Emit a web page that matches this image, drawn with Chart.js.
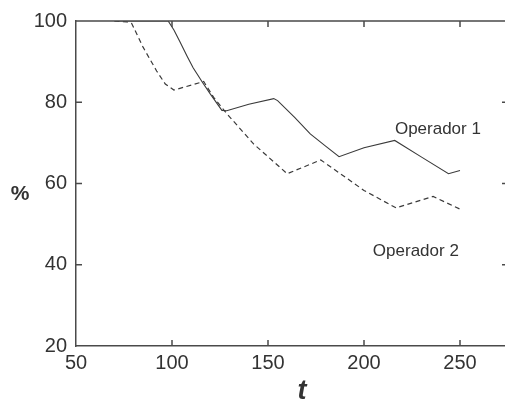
<!DOCTYPE html>
<html>
<head>
<meta charset="utf-8">
<script src="https://cdn.jsdelivr.net/npm/chart.js@4"></script>
<style>
  html, body { margin: 0; padding: 0; background: #fff; overflow: hidden; }
  #wrap { width: 508px; height: 404px; }
</style>
</head>
<body>
<div id="wrap"><canvas id="chart" width="508" height="404"></canvas></div>
<script>
const xTicks = [50, 100, 150, 200, 250];
const yTicks = [20, 40, 60, 80, 100];

const op1T = [70, 98, 101, 104, 108, 111, 116, 120, 126, 128.5, 140, 153, 155, 164, 172, 180, 187, 200, 216, 230, 244, 250];
const op1V = [100, 100, 97.8, 95, 91.2, 88.5, 84.8, 82, 78, 77.9, 79.5, 80.9, 80.4, 76.2, 72.2, 69.2, 66.6, 68.8, 70.6, 66.5, 62.4, 63.2];

const op2T = [70, 76.5, 79, 85, 92, 96.5, 101, 116.5, 121.7, 128.7, 142.6, 160, 177.5, 200, 216.7, 236, 250];
const op2V = [100, 99.8, 99.4, 93.5, 87.7, 84.5, 83, 85.1, 81.2, 77.1, 69.7, 62.4, 65.8, 58.3, 54, 56.8, 53.7];

const toPoints = (ts, vs) => ts.map((t, i) => ({ x: t, y: vs[i] }));

const axisColor = '#4a4a4a';
const textColor = '#333';
const font = 'Liberation Sans, Arial, sans-serif';

// frame on top, inward ticks, axis titles and line labels
const decor = {
  id: 'decor',
  afterDraw(chart) {
    const { ctx, chartArea: a, scales } = chart;
    const tl = 6;
    ctx.save();
    ctx.strokeStyle = axisColor;
    ctx.lineWidth = 1.5;
    ctx.beginPath();
    ctx.moveTo(a.left, a.top);
    ctx.lineTo(a.right, a.top);
    xTicks.slice(1).forEach(v => {
      const px = scales.x.getPixelForValue(v);
      ctx.moveTo(px, a.bottom); ctx.lineTo(px, a.bottom - tl);
      ctx.moveTo(px, a.top); ctx.lineTo(px, a.top + tl);
    });
    yTicks.slice(1, -1).forEach(v => {
      const py = scales.y.getPixelForValue(v);
      ctx.moveTo(a.left, py); ctx.lineTo(a.left + tl, py);
      ctx.moveTo(a.right, py); ctx.lineTo(a.right - tl, py);
    });
    ctx.stroke();

    ctx.fillStyle = textColor;
    ctx.textAlign = 'center';
    ctx.textBaseline = 'middle';
    ctx.font = 'bold 21px ' + font;
    ctx.fillText('%', 20, 194);
    ctx.font = 'italic bold 27px ' + font;
    ctx.fillText('t', 302, 392);
    ctx.font = '17px ' + font;
    ctx.fillText('Operador 1', scales.x.getPixelForValue(238.5), scales.y.getPixelForValue(73.3));
    ctx.fillText('Operador 2', scales.x.getPixelForValue(227), scales.y.getPixelForValue(43.2));
    ctx.restore();
  }
};

new Chart(document.getElementById('chart').getContext('2d'), {
  type: 'line',
  data: {
    datasets: [{
      label: 'Operador 1',
      data: toPoints(op1T, op1V),
      borderColor: '#3a3a3a',
      borderWidth: 1.1,
      pointRadius: 0,
      tension: 0
    }, {
      label: 'Operador 2',
      data: toPoints(op2T, op2V),
      borderColor: '#3a3a3a',
      borderWidth: 1.2,
      borderDash: [5, 3.5],
      pointRadius: 0,
      tension: 0
    }]
  },
  options: {
    responsive: false,
    animation: false,
    layout: { padding: { top: 20, right: 0, left: 0, bottom: 0 } },
    plugins: { legend: { display: false }, tooltip: { enabled: false } },
    scales: {
      x: {
        type: 'linear',
        min: 50,
        max: 275,
        afterFit(s) { s.height = 58; },
        afterBuildTicks(s) { s.ticks = xTicks.map(v => ({ value: v })); },
        grid: { display: false, drawTicks: false },
        border: { display: true, color: axisColor, width: 1.5 },
        ticks: { color: textColor, padding: 5, font: { family: font, size: 20 }, maxRotation: 0 }
      },
      y: {
        min: 20,
        max: 100,
        afterFit(s) { s.width = 76; },
        afterBuildTicks(s) { s.ticks = yTicks.map(v => ({ value: v })); },
        grid: { display: false, drawTicks: false },
        border: { display: true, color: axisColor, width: 1.5 },
        ticks: { color: textColor, padding: 9, font: { family: font, size: 20 } }
      }
    }
  },
  plugins: [decor]
});
</script>
</body>
</html>
